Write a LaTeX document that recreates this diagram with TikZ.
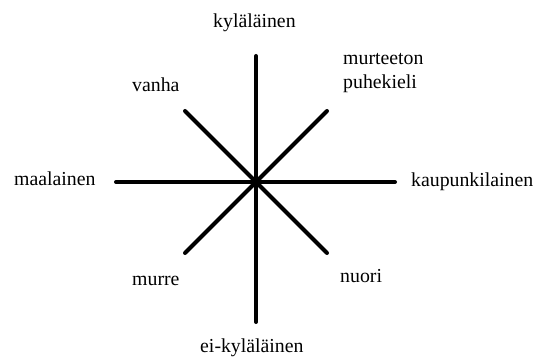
\documentclass[tikz,border=0pt]{standalone}
\usepackage{fontspec}
\setmainfont{Liberation Serif}
\begin{document}
\begin{tikzpicture}[x=1pt,y=1pt,
  axis/.style={line width=4pt,line cap=round},
  lbl/.style={inner sep=0pt,anchor=base west,font=\fontsize{19.8}{24}\selectfont}]
\useasboundingbox (0,0) rectangle (537,356);
% center and ends (y = 356 - image y)
\coordinate (c) at (256,174);
\coordinate (n) at (256,300);
\coordinate (s) at (256,34);
\coordinate (w) at (116,174);
\coordinate (e) at (395,174);
\coordinate (nw) at (185,245);
\coordinate (se) at (327,103);
\coordinate (ne) at (327,245);
\coordinate (sw) at (185,103);
\draw[axis] (n) -- (s);
\draw[axis] (w) -- (e);
\draw[axis] (nw) -- (se);
\draw[axis] (ne) -- (sw);
% labels
\node[lbl] (kyl) at (213,328) {kyläläinen};
\node[lbl] (mur) at (343,291) {murteeton};
\node[lbl] (puh) at (343,267) {puhekieli};
\node[lbl] (van) at (132,264) {vanha};
\node[lbl] (maa) at (14,170) {maalainen};
\node[lbl] (kau) at (411,169) {kaupunkilainen};
\node[lbl] (murre) at (132,71) {murre};
\node[lbl] (nuo) at (340,74) {nuori};
\node[lbl] (eik) at (200,4) {ei-kyläläinen};
\end{tikzpicture}
\end{document}
